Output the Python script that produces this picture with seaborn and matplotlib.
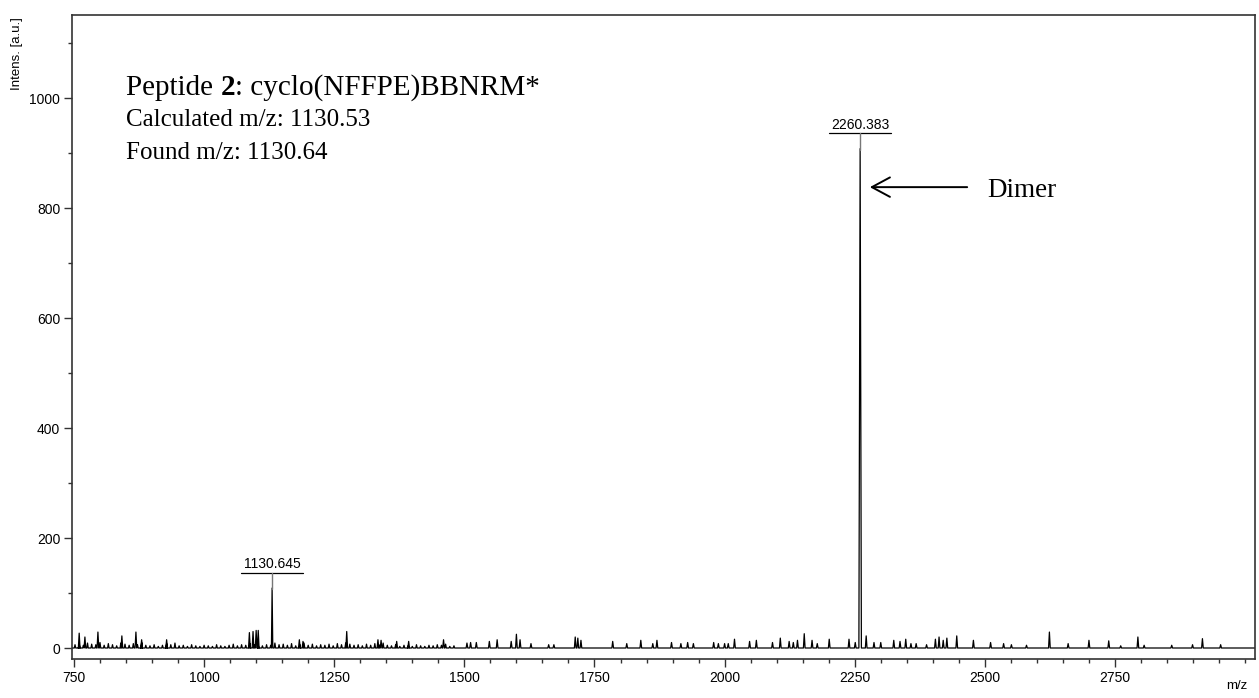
import numpy as np
import pandas as pd
import matplotlib
matplotlib.use("Agg")
import matplotlib.pyplot as plt
import seaborn as sns
from matplotlib.ticker import MultipleLocator, FixedLocator

# ---------------- data ----------------
noise_mz = [752, 760, 768, 776, 784, 792, 800, 808, 816, 824, 832, 840, 848, 856,
            864, 872, 880, 888, 896, 904, 912, 920, 928, 936, 944, 952, 960, 968,
            976, 984, 992, 1000, 1008, 1016, 1024, 1032, 1040, 1048, 1056, 1064,
            1072, 1080, 1088, 1096, 1104, 1112, 1120, 1128, 1136, 1144, 1152, 1160,
            1168, 1176, 1184, 1192, 1200, 1208, 1216, 1224, 1232, 1240, 1248, 1256,
            1264, 1272, 1280, 1288, 1296, 1304, 1312, 1320, 1328, 1336, 1344, 1352,
            1360, 1368, 1376, 1384, 1392, 1400, 1408, 1416, 1424, 1432, 1440, 1448,
            1456, 1464, 1472, 1480]
noise_h = [6, 8, 5, 9, 7, 6, 10, 5, 8, 6, 4, 9, 7, 5,
           8, 6, 10, 5, 4, 6, 3, 5, 8, 6, 9, 4, 5, 3,
           6, 4, 3, 5, 4, 3, 6, 4, 3, 5, 7, 4,
           6, 5, 8, 6, 5, 4, 6, 5, 9, 6, 7, 5,
           8, 4, 6, 9, 5, 7, 4, 6, 5, 7, 4, 8,
           6, 9, 7, 5, 6, 4, 7, 5, 8, 6, 9, 5,
           4, 6, 3, 5, 4, 3, 6, 4, 3, 5, 4, 6,
           5, 7, 3, 4]

peak_mz = [760, 771, 796, 842, 869, 880, 928, 1087, 1094, 1100, 1104, 1183, 1190,
           1274, 1334, 1340, 1370, 1393, 1460, 1505, 1512, 1523, 1548, 1563, 1590,
           1600, 1607, 1628, 1662, 1672, 1713, 1718, 1724, 1785, 1812, 1839, 1862,
           1870, 1898, 1916, 1929, 1940, 1979, 1988, 2000, 2007, 2019, 2048, 2061,
           2092, 2107, 2124, 2132, 2140, 2153, 2168, 2178, 2201, 2239, 2251, 2272,
           2287, 2300, 2325, 2337, 2348, 2358, 2368, 2388, 2405, 2412, 2420, 2427,
           2446, 2478, 2511, 2536, 2551, 2580, 2624, 2660, 2700, 2738, 2761, 2794,
           2806, 2859, 2899, 2918, 2953]
peak_h = [27, 20, 29, 22, 29, 15, 15, 28, 30, 32, 32, 15, 12,
          30, 15, 14, 12, 12, 15, 9, 10, 10, 12, 15, 12,
          25, 15, 8, 6, 6, 20, 18, 14, 12, 8, 14, 8,
          14, 10, 8, 10, 8, 10, 8, 8, 8, 16, 12, 14,
          10, 18, 12, 10, 14, 26, 14, 8, 16, 16, 10, 22,
          10, 10, 14, 12, 16, 8, 8, 6, 16, 20, 14, 18,
          22, 14, 10, 8, 6, 5, 29, 8, 14, 13, 4, 20,
          5, 5, 6, 17, 6]

labeled_mz = [1130.645, 2260.383]
labeled_h = [109, 908]
labeled_text = ["1130.645", "2260.383"]

x_ticks = [750, 1000, 1250, 1500, 1750, 2000, 2250, 2500, 2750]
y_ticks = [0, 200, 400, 600, 800, 1000]

info_prefix = "Peptide "
info_bold = "2"
info_suffix = ": cyclo(NFFPE)BBNRM*"
info_line2 = "Calculated m/z: 1130.53"
info_line3 = "Found m/z: 1130.64"
dimer_text = "Dimer"

# ---------------- build stick-profile from the peak lists ----------------
all_mz = noise_mz + peak_mz + labeled_mz
all_h = noise_h + peak_h + labeled_h
all_w = [1.4] * len(noise_mz) + [1.6] * len(peak_mz) + [1.3, 2.4]
order = np.argsort(all_mz, kind="stable")
xs, ys = [740.0], [0.0]
for i in order:
    m, h, w = all_mz[i], all_h[i], all_w[i]
    xs += [m - w, m, m + w]
    ys += [0.0, h, 0.0]
xs.append(3030.0)
ys.append(0.0)
df = pd.DataFrame({"mz": xs, "intensity": ys})

# ---------------- figure ----------------
sns.set_theme(style="ticks")
plt.rcParams["font.family"] = ["Liberation Sans", "DejaVu Sans"]
plt.rcParams["text.color"] = "black"
plt.rcParams["xtick.labelcolor"] = "black"
plt.rcParams["ytick.labelcolor"] = "black"

fig = plt.figure(figsize=(12.59, 6.98), dpi=100)
ax = fig.add_axes([72 / 1259, 1 - 659 / 698, (1255 - 72) / 1259, (659 - 15) / 698])

sns.lineplot(data=df, x="mz", y="intensity", sort=False, estimator=None,
             color="black", lw=0.9, ax=ax)

ax.set_xlim(746.2, 3019)
ax.set_ylim(-20, 1151)
ax.xaxis.set_major_locator(FixedLocator(x_ticks))
ax.xaxis.set_minor_locator(MultipleLocator(50))
ax.yaxis.set_major_locator(FixedLocator(y_ticks))
ax.yaxis.set_minor_locator(MultipleLocator(100))
ax.tick_params(which="major", direction="out", length=5.5, width=1.0,
               color="#333333", labelsize=10, labelcolor="black", pad=3)
ax.tick_params(which="minor", direction="out", length=3, width=1.0, color="#333333")
for s in ax.spines.values():
    s.set_visible(True)
    s.set_color("#333333")
    s.set_linewidth(1.2)
ax.set_xlabel("")
ax.set_ylabel("")

# peak labels with underline and connector
for m, h, t in zip(labeled_mz, labeled_h, labeled_text):
    y_u = h + 28
    ax.plot([m - 60, m + 60], [y_u, y_u], color="black", lw=0.9)
    ax.plot([m, m], [y_u, h - 2], color="#777777", lw=1.0)
    ax.text(m, y_u + 3, t, ha="center", va="bottom", fontsize=10, color="black")

# annotation block
serif = ["Liberation Serif", "DejaVu Serif"]
t1 = ax.text(850, 1019, info_prefix, family=serif, fontsize=21, va="center",
             ha="left", color="black")
t2 = ax.annotate(info_bold, xy=(1, 0), xycoords=t1, va="bottom", ha="left",
                 family=serif, fontsize=21, fontweight="bold", color="black")
ax.annotate(info_suffix, xy=(1, 0), xycoords=t2, va="bottom", ha="left",
            family=serif, fontsize=21, color="black")
ax.text(850, 960, info_line2, family=serif, fontsize=18, va="center", ha="left",
        color="black")
ax.text(850, 900, info_line3, family=serif, fontsize=18, va="center", ha="left",
        color="black")

# dimer arrow
ax.annotate("", xy=(2279, 838), xytext=(2466, 838),
            arrowprops=dict(arrowstyle="->,head_length=0.65,head_width=0.35",
                            lw=1.4, color="black", mutation_scale=20,
                            shrinkA=0, shrinkB=0))
ax.text(2505, 832, dimer_text, family=serif, fontsize=19.5, va="center",
        ha="left", color="black")

# axis captions
fig.text(17 / 1259, 1 - 17 / 698, "Intens. [a.u.]", rotation=90, ha="center",
         va="top", fontsize=9.5, color="black")
fig.text(1237 / 1259, 1 - 686 / 698, "m/z", ha="center", va="center",
         fontsize=9.5, color="black")

fig.savefig("out.png", dpi=100)
